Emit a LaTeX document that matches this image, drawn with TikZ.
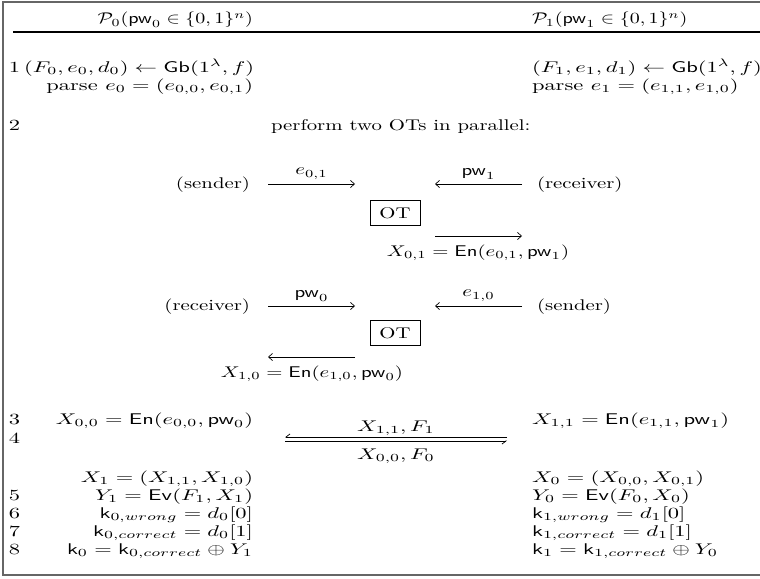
\documentclass[tikz,border=0pt]{standalone}
\usepackage{graphicx}
\usepackage{amsmath,amssymb}
\usetikzlibrary{arrows.meta}
\newcommand{\hsa}[1]{\scalebox{1.29}[1]{#1}}
\newcommand{\hsb}[1]{\scalebox{1.34}[1]{#1}}
\newcommand{\hsc}[1]{\scalebox{1.45}[1]{#1}}
\begin{document}
\begin{tikzpicture}[x=0.645pt,y=-0.645pt,
  every node/.style={inner sep=0pt,outer sep=0pt},
  L/.style={anchor=base west},
  R/.style={anchor=base east},
  C/.style={anchor=base},
  msg/.style={line width=0.45pt,-{Straight Barb[length=2.6pt,width=4.6pt]}},
  hp/.style={line width=0.45pt,-{Straight Barb[harpoon,swap,length=2.6pt,width=4pt]}},
  otbox/.style={draw,line width=0.55pt,minimum width=32.3pt,minimum height=16pt,anchor=center}]
\useasboundingbox (0,0) rectangle (760,578);
\coordinate (ftr) at (764,2); \coordinate (ftl) at (3,2);
\coordinate (fbl) at (3,575); \coordinate (fbr) at (764,575);
\draw[line width=1pt,draw=black!60] (ftr) -- (ftl) -- (fbl) -- (fbr);
\coordinate (hl) at (13,32); \coordinate (hr) at (764,32);
\draw[line width=0.7pt] (hl) -- (hr);
\node[R] (h0) at (253,24) {\hsa{$\mathcal{P}_0(\mathsf{pw}_0\in\{0,1\}^n)$}};
\node[L] (h1) at (532,24) {\hsa{$\mathcal{P}_1(\mathsf{pw}_1\in\{0,1\}^n)$}};
% row 1
\node[L] (n1) at (9,72) {\hsc{1}};
\node[R] (l1a) at (254,72) {\hsc{$(F_0,e_0,d_0)\leftarrow\mathsf{Gb}(1^\lambda,f)$}};
\node[R] (l1b) at (253,90) {\hsc{parse $e_0=(e_{0,0},e_{0,1})$}};
\node[L] (r1a) at (532,72) {\hsc{$(F_1,e_1,d_1)\leftarrow\mathsf{Gb}(1^\lambda,f)$}};
\node[L] (r1b) at (532,90) {\hsc{parse $e_1=(e_{1,1},e_{1,0})$}};
% row 2
\node[L] (n2) at (9,130) {\hsc{2}};
\node[L] (perf) at (271,130) {\hsb{perform two OTs in parallel:}};
% first OT
\node[R] (s1) at (250,188) {\hsb{(sender)}};
\node[L] (rc1) at (537,188) {\hsb{(receiver)}};
\coordinate (a1s) at (268,184); \coordinate (a1e) at (355,184);
\draw[msg] (a1s) -- node[midway,above=3pt] {\hsb{$e_{0,1}$}} (a1e);
\coordinate (a2s) at (522,184); \coordinate (a2e) at (435,184);
\draw[msg] (a2s) -- node[midway,above=3pt] {\hsb{$\mathsf{pw}_1$}} (a2e);
\node[otbox] (ot1) at (395,213) {\hsb{OT}};
\coordinate (a3s) at (435,236); \coordinate (a3e) at (522,236);
\draw[msg] (a3s) -- (a3e);
\node[C] (x01) at (478,256) {\hsb{$X_{0,1}=\mathsf{En}(e_{0,1},\mathsf{pw}_1)$}};
% second OT
\node[R] (rc2) at (250,310) {\hsb{(receiver)}};
\node[L] (s2) at (537,310) {\hsb{(sender)}};
\coordinate (b1s) at (268,306); \coordinate (b1e) at (355,306);
\draw[msg] (b1s) -- node[midway,above=3pt] {\hsb{$\mathsf{pw}_0$}} (b1e);
\coordinate (b2s) at (522,306); \coordinate (b2e) at (435,306);
\draw[msg] (b2s) -- node[midway,above=3pt] {\hsb{$e_{1,0}$}} (b2e);
\node[otbox] (ot2) at (395,333) {\hsb{OT}};
\coordinate (b3s) at (355,357); \coordinate (b3e) at (268,357);
\draw[msg] (b3s) -- (b3e);
\node[C] (x10) at (312,377) {\hsb{$X_{1,0}=\mathsf{En}(e_{1,0},\mathsf{pw}_0)$}};
% rows 3-8
\node[L] (n3) at (9,424) {\hsc{3}};
\node[L] (n4) at (9,443) {\hsc{4}};
\node[L] (n5) at (9,500) {\hsc{5}};
\node[L] (n6) at (9,518) {\hsc{6}};
\node[L] (n7) at (9,536) {\hsc{7}};
\node[L] (n8) at (9,554) {\hsc{8}};
\node[R] (l3) at (253,424) {\hsc{$X_{0,0}=\mathsf{En}(e_{0,0},\mathsf{pw}_0)$}};
\node[R] (lx1) at (253,482) {\hsc{$X_1=(X_{1,1},X_{1,0})$}};
\node[R] (l5) at (253,500) {\hsc{$Y_1=\mathsf{Ev}(F_1,X_1)$}};
\node[R] (l6) at (253,518) {\hsc{$\mathsf{k}_{0,wrong}=d_0[0]$}};
\node[R] (l7) at (253,536) {\hsc{$\mathsf{k}_{0,correct}=d_0[1]$}};
\node[R] (l8) at (253,554) {\hsc{$\mathsf{k}_0=\mathsf{k}_{0,correct}\oplus Y_1$}};
\node[L] (r3) at (532,424) {\hsc{$X_{1,1}=\mathsf{En}(e_{1,1},\mathsf{pw}_1)$}};
\node[L] (rx0) at (532,482) {\hsc{$X_0=(X_{0,0},X_{0,1})$}};
\node[L] (r5) at (532,500) {\hsc{$Y_0=\mathsf{Ev}(F_0,X_0)$}};
\node[L] (r6) at (532,518) {\hsc{$\mathsf{k}_{1,wrong}=d_1[0]$}};
\node[L] (r7) at (532,536) {\hsc{$\mathsf{k}_{1,correct}=d_1[1]$}};
\node[L] (r8) at (532,554) {\hsc{$\mathsf{k}_1=\mathsf{k}_{1,correct}\oplus Y_0$}};
% exchange
\coordinate (d1r) at (507,437); \coordinate (d1l) at (285,437);
\coordinate (d2l) at (285,441); \coordinate (d2r) at (507,441);
\draw[hp] (d1r) -- (d1l);
\draw[hp] (d2l) -- (d2r);
\node[C] (m1) at (396,431) {\hsc{$X_{1,1},F_1$}};
\node[C] (m2) at (396,459) {\hsc{$X_{0,0},F_0$}};
\end{tikzpicture}
\end{document}
